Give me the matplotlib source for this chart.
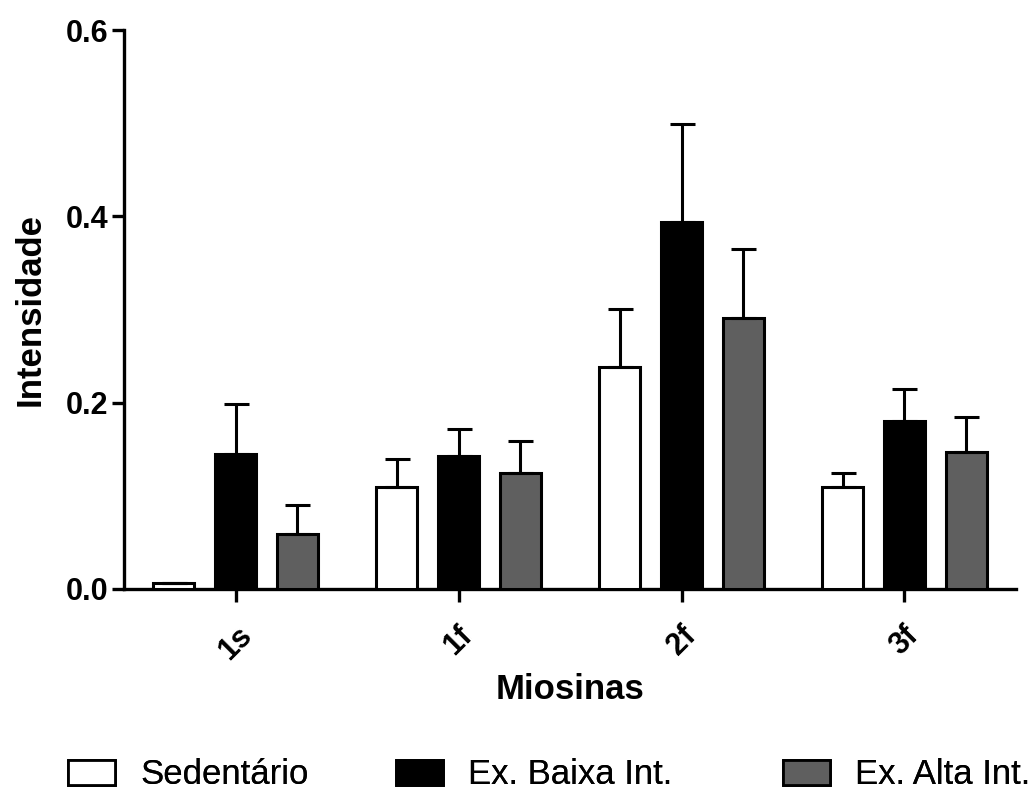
import numpy as np
import matplotlib
matplotlib.use('Agg')
import matplotlib.pyplot as plt
from matplotlib.patches import Patch
from matplotlib.transforms import ScaledTranslation

plt.rcParams['font.family'] = ['Liberation Sans', 'DejaVu Sans']

# data
miosinas = ['1s', '1f', '2f', '3f']
grupos = ['Sedentário', 'Ex. Baixa Int.', 'Ex. Alta Int.']
sedentario = [0.006, 0.110, 0.238, 0.109]
sedentario_err = [0.0, 0.030, 0.063, 0.016]
baixa = [0.145, 0.143, 0.394, 0.180]
baixa_err = [0.054, 0.029, 0.105, 0.035]
alta = [0.059, 0.124, 0.291, 0.147]
alta_err = [0.031, 0.035, 0.074, 0.038]
cores = ['white', 'black', '#5f5f5f']

fig = plt.figure(figsize=(10.36, 7.99), dpi=100)
ax = fig.add_axes([124/1036, 210/799, 892/1036, 559/799])

x = np.arange(len(miosinas))
offset = 0.278
width = 0.188
series = [(sedentario, sedentario_err), (baixa, baixa_err), (alta, alta_err)]
for i, (vals, errs) in enumerate(series):
    pos = x + (i - 1) * offset
    ax.bar(pos, vals, width, color=cores[i], edgecolor='black', linewidth=2.2,
           yerr=[np.zeros(len(errs)), errs],
           error_kw=dict(ecolor='black', elinewidth=2.2, capsize=9, capthick=2.2),
           zorder=3)

ax.set_xlim(-0.5, 3.5)
ax.set_ylim(0, 0.6)
ax.set_yticks([0.0, 0.2, 0.4, 0.6])
ax.set_yticklabels(['0.0', '0.2', '0.4', '0.6'], fontsize=22, fontweight='bold')
ax.set_xticks(x)
ax.set_xticklabels(miosinas, fontsize=22, fontweight='bold', rotation=45)
shift = ScaledTranslation(-9/100, 0, fig.dpi_scale_trans)
for lab in ax.get_xticklabels():
    lab.set_transform(lab.get_transform() + shift)
ax.spines['top'].set_visible(False)
ax.spines['right'].set_visible(False)
ax.spines['left'].set_linewidth(2.4)
ax.spines['bottom'].set_linewidth(2.4)
ax.tick_params(axis='y', length=9, width=2.4, pad=2)
ax.tick_params(axis='x', length=9, width=2.4, pad=14)
ax.set_xlabel('Miosinas', fontsize=25, fontweight='bold', labelpad=5)
ax.set_ylabel('Intensidade', fontsize=25, fontweight='bold', labelpad=14)

# legend entries sit at uneven spots in the reference, so one legend each
legend_x = [68, 396, 783]
for i in range(3):
    h = Patch(facecolor=cores[i], edgecolor='black', linewidth=2)
    leg = fig.legend([h], [grupos[i]], loc='center left',
                     bbox_to_anchor=(legend_x[i]/1036, 24/799),
                     frameon=False, fontsize=25, handlelength=1.36, handleheight=0.76,
                     handletextpad=0.72, borderpad=0, borderaxespad=0)
    fig.add_artist(leg)

fig.savefig('out.png', dpi=100)
